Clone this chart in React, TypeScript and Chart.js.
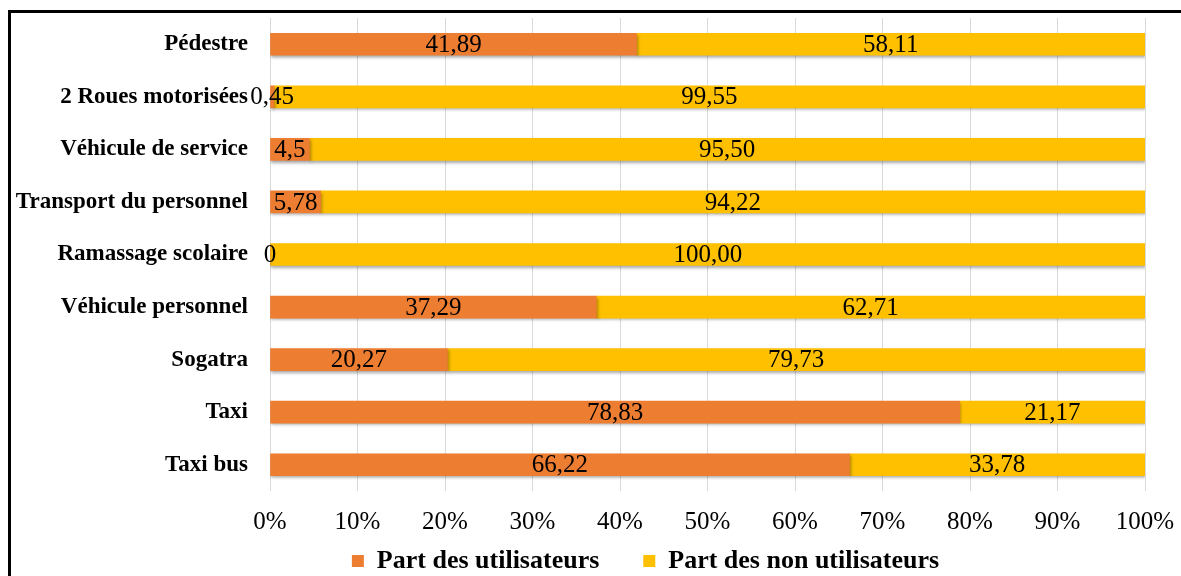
import React, { useEffect, useRef } from "react";
import { Chart, registerables } from "chart.js";

Chart.register(...registerables);

const categories = [
  "Pédestre",
  "2 Roues motorisées",
  "Véhicule de service",
  "Transport du personnel",
  "Ramassage scolaire",
  "Véhicule personnel",
  "Sogatra",
  "Taxi",
  "Taxi bus",
];
const users = [41.89, 0.45, 4.5, 5.78, 0, 37.29, 20.27, 78.83, 66.22];
const nonUsers = [58.11, 99.55, 95.5, 94.22, 100, 62.71, 79.73, 21.17, 33.78];
const userLabels = ["41,89", "0,45", "4,5", "5,78", "0", "37,29", "20,27", "78,83", "66,22"];
const nonUserLabels = ["58,11", "99,55", "95,50", "94,22", "100,00", "62,71", "79,73", "21,17", "33,78"];
const seriesNames = ["Part des utilisateurs", "Part des non utilisateurs"];

const SERIF = "'Liberation Serif', 'Times New Roman', serif";
const LEGEND_PAD = 44;
const LEGEND_FONT = 26;
const LEGEND_CENTER_Y = 561;
const LEGEND_SHIFT_X = 73;

const shadowPlugin = {
  id: "barShadow",
  beforeDatasetDraw(chart: any) {
    const ctx = chart.ctx;
    ctx.save();
    ctx.shadowColor = "rgba(0,0,0,0.35)";
    ctx.shadowBlur = 3;
    ctx.shadowOffsetX = 1;
    ctx.shadowOffsetY = 2;
  },
  afterDatasetDraw(chart: any) {
    chart.ctx.restore();
  },
};

const legendShiftPlugin = {
  id: "legendShift",
  afterLayout(chart: any) {
    const lg = chart.legend;
    if (!lg) return;
    const target = LEGEND_CENTER_Y - LEGEND_PAD - LEGEND_FONT / 2;
    const dy = target - lg.top;
    lg.top += dy;
    lg.bottom += dy;
    lg.left += LEGEND_SHIFT_X;
    lg.right += LEGEND_SHIFT_X;
  },
};

const labelPlugin = {
  id: "segLabels",
  afterDatasetsDraw(chart: any) {
    const ctx = chart.ctx;
    const labelSets = [userLabels, nonUserLabels];
    ctx.save();
    ctx.font = `25px ${SERIF}`;
    ctx.fillStyle = "#000";
    ctx.textAlign = "center";
    ctx.textBaseline = "middle";
    chart.data.datasets.forEach((_: any, di: number) => {
      const meta = chart.getDatasetMeta(di);
      meta.data.forEach((bar: any, i: number) => {
        const props = bar.getProps(["x", "y", "base"], true);
        const cx = (props.x + props.base) / 2;
        ctx.fillText(labelSets[di][i], cx, props.y + 1);
      });
    });
    ctx.restore();
  },
};

export default function App() {
  const ref = useRef<HTMLCanvasElement | null>(null);

  useEffect(() => {
    if (!ref.current) return;
    const chart = new Chart(ref.current, {
      type: "bar",
      data: {
        labels: categories,
        datasets: [
          {
            label: seriesNames[0],
            data: users,
            backgroundColor: "#ED7D31",
            borderWidth: 0,
            barThickness: 22,
          },
          {
            label: seriesNames[1],
            data: nonUsers,
            backgroundColor: "#FFC000",
            borderWidth: 0,
            barThickness: 22,
          },
        ],
      },
      options: {
        indexAxis: "y",
        responsive: false,
        animation: false,
        devicePixelRatio: 1,
        layout: { padding: { top: 18, right: 36, bottom: 0, left: 0 } },
        scales: {
          x: {
            stacked: true,
            min: 0,
            max: 100,
            afterFit(scale: any) {
              scale.paddingLeft = 0;
              scale.paddingRight = 0;
            },
            ticks: {
              stepSize: 10,
              autoSkip: false,
              padding: 16,
              color: "#000",
              font: { family: SERIF, size: 25 },
              maxRotation: 0,
              callback: (v: any) => `${v}%`,
            },
            grid: { color: "#d9d9d9", lineWidth: 1, drawTicks: false },
            border: { display: false },
          },
          y: {
            stacked: true,
            afterFit(scale: any) {
              scale.width = 270;
              scale.paddingTop = 0;
              scale.paddingBottom = 0;
            },
            ticks: {
              padding: 22,
              color: "#000",
              font: { family: SERIF, size: 23, weight: "bold" },
            },
            grid: { display: false, drawTicks: false },
            border: { display: false },
          },
        },
        plugins: {
          legend: {
            position: "bottom",
            labels: {
              color: "#000",
              font: { family: SERIF, size: LEGEND_FONT, weight: "bold" },
              boxWidth: 12,
              boxHeight: 12,
              padding: LEGEND_PAD,
            },
          },
          tooltip: { enabled: false },
        },
      },
      plugins: [shadowPlugin, labelPlugin, legendShiftPlugin],
    } as any);
    return () => chart.destroy();
  }, []);

  return (
    <>
      <div style={{ position: "fixed", left: 0, top: 0, width: 1181, height: 633 }}>
        <canvas ref={ref} width={1181} height={633} style={{ display: "block" }} />
      </div>
      <div
        style={{
          position: "fixed",
          left: 8,
          top: 10,
          width: 1300,
          height: 700,
          borderLeft: "3px solid #000",
          borderTop: "3px solid #000",
          pointerEvents: "none",
        }}
      />
    </>
  );
}
